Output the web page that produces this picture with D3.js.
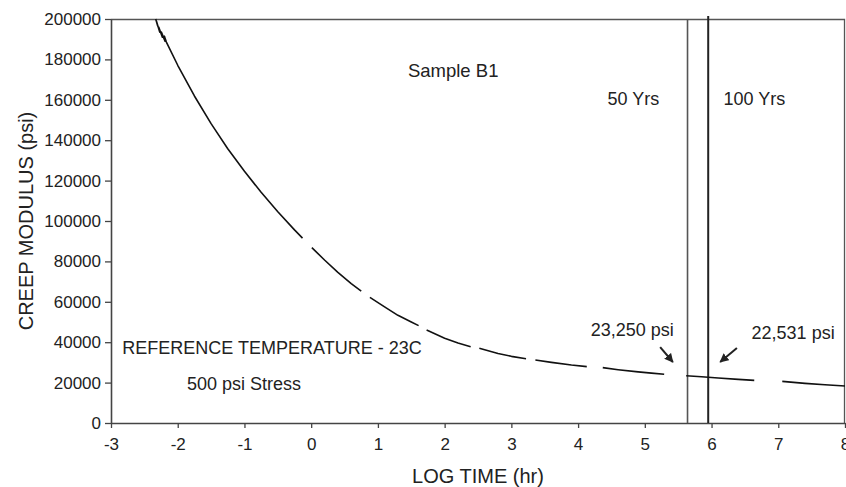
<!DOCTYPE html>
<html>
<head>
<meta charset="utf-8">
<script src="https://cdn.jsdelivr.net/npm/d3@7"></script>
<style>
  body { margin: 0; background: #fff; }
  text { font-family: "Liberation Sans", Arial, sans-serif; fill: #222; }
</style>
</head>
<body>
<svg id="chart"></svg>
<script>
// data: log10(time in hr) vs creep modulus (psi)
// each array is one measured stretch of the master curve (there are gaps between them)
const seg1 = [[-2.33, 200000], [-2.30, 196500], [-2.315, 198500], [-2.27, 193500], [-2.285, 196000],
  [-2.23, 191000], [-2.245, 193500], [-2.19, 189000], [-2.2, 191500], [-2.17, 188600], [-2.0, 177100],
  [-1.75, 161900], [-1.5, 148200], [-1.25, 135800], [-1.0, 124600], [-0.75, 114200], [-0.5, 104600],
  [-0.25, 95600], [-0.13, 91500]]
const seg2 = [[0.01, 86800], [0.2, 80700], [0.4, 74600], [0.6, 69000], [0.75, 65300]]
const seg3 = [[0.88, 62200], [1.1, 57500], [1.3, 53300], [1.5, 50000], [1.61, 48200]]
const seg4 = [[1.73, 46000], [2.0, 42000], [2.2, 39600], [2.39, 37800]]
const seg5 = [[2.52, 37000], [2.8, 34400], [3.0, 33000], [3.22, 31800]]
const seg6 = [[3.36, 31200], [3.6, 30000], [3.9, 28700], [4.13, 27900]]
const seg7 = [[4.37, 27400], [4.6, 26400], [4.9, 25300], [5.1, 24700], [5.29, 24100]]
const seg8 = [[5.62, 23400], [5.85, 22900], [6.1, 22300], [6.4, 21600], [6.64, 21100]]
const seg9 = [[7.06, 20600], [7.4, 19600], [7.7, 18900], [8.0, 18300]]
const segments = [seg1, seg2, seg3, seg4, seg5, seg6, seg7, seg8, seg9]

// service life markers (log hr)
const lifeLines = [{ label: "50 Yrs", x: 5.64 }, { label: "100 Yrs", x: 5.95 }]

// tick labels
const xTicks = [-3, -2, -1, 0, 1, 2, 3, 4, 5, 6, 7, 8]
const yTicks = [0, 20000, 40000, 60000, 80000, 100000, 120000, 140000, 160000, 180000, 200000]

// annotation values and where their arrows sit
const notes = [
  { text: "23,250 psi", x: 4.19, y: 43000, from: [5.23, 37600], to: [5.42, 30200] },
  { text: "22,531 psi", x: 6.6, y: 41800, from: [6.38, 37100], to: [6.13, 30200] }
]

// constants
const width = 846
const height = 487
const margin = { left: 111, right: 1, top: 19, bottom: 64 }
const visWidth = width - margin.left - margin.right
const visHeight = height - margin.top - margin.bottom

const svgRoot = d3.select("svg#chart").attr("width", width).attr("height", height)

svgRoot.append("defs").append("marker")
  .attr("id", "head")
  .attr("viewBox", "0 0 10 10")
  .attr("refX", 9).attr("refY", 5)
  .attr("markerWidth", 9).attr("markerHeight", 9)
  .attr("markerUnits", "userSpaceOnUse")
  .attr("orient", "auto")
  .append("path").attr("d", "M0,0 L10,5 L0,10 Z").attr("fill", "#222")

const svg = svgRoot.append("g").attr("transform", "translate(" + margin.left + "," + margin.top + ")")

const x = d3.scaleLinear().domain([-3, 8]).range([0, visWidth])
const y = d3.scaleLinear().domain([0, 200000]).range([visHeight, 0])

// plot frame (top and right edges)
svg.append("path")
  .attr("d", "M0,0.5 H" + (visWidth - 0.5) + " V" + visHeight)
  .attr("fill", "none").attr("stroke", "#555").attr("stroke-width", 1.3)

// axes - plain hyphen for negatives like the original
const xAxis = svg.append("g").attr("transform", "translate(0," + visHeight + ")")
  .call(d3.axisBottom(x).tickValues(xTicks).tickFormat(d => String(d)).tickSizeOuter(0).tickSizeInner(5).tickPadding(10))
const yAxis = svg.append("g")
  .call(d3.axisLeft(y).tickValues(yTicks).tickFormat(d => String(d)).tickSizeOuter(0).tickSizeInner(6).tickPadding(4))

;[xAxis, yAxis].forEach(a => {
  a.select(".domain").attr("stroke", "#444").attr("stroke-width", 1.6)
  a.selectAll(".tick line").attr("stroke", "#444").attr("stroke-width", 1.3)
  a.selectAll("text").attr("font-size", "17px").attr("fill", "#222")
    .attr("font-family", "'Liberation Sans', Arial, sans-serif")
})

// axis titles
svg.append("text")
  .attr("x", x(2.5)).attr("y", visHeight + 60)
  .attr("text-anchor", "middle").attr("font-size", "20px")
  .text("LOG TIME (hr)")
svg.append("text")
  .attr("transform", "translate(" + (-78) + "," + (visHeight / 2) + ") rotate(-90)")
  .attr("text-anchor", "middle").attr("font-size", "20px")
  .text("CREEP MODULUS (psi)")

// 50 / 100 year lines
svg.selectAll(".life")
  .data(lifeLines).enter()
  .append("line")
  .attr("class", "life")
  .attr("x1", d => x(d.x)).attr("x2", d => x(d.x))
  .attr("y1", (d, i) => i == 1 ? -3 : 0).attr("y2", visHeight)
  .attr("stroke", (d, i) => i == 1 ? "#222" : "#555")
  .attr("stroke-width", (d, i) => i == 1 ? 2 : 1.6)

// creep curve
const line = d3.line().x(d => x(d[0])).y(d => y(d[1]))
svg.selectAll(".curve")
  .data(segments).enter()
  .append("path")
  .attr("class", "curve")
  .attr("d", line)
  .attr("fill", "none").attr("stroke", "#111").attr("stroke-width", 1.6)
  .attr("stroke-linejoin", "round")

// labels
svg.append("text").attr("x", x(1.45)).attr("y", y(171500)).attr("font-size", "18.5px").text("Sample B1")
svg.append("text").attr("x", x(4.44)).attr("y", y(157600)).attr("font-size", "18px").text(lifeLines[0].label)
svg.append("text").attr("x", x(6.18)).attr("y", y(157600)).attr("font-size", "18px").text(lifeLines[1].label)
svg.append("text").attr("x", x(-2.83)).attr("y", y(34400)).attr("font-size", "18px").text("REFERENCE TEMPERATURE - 23C")
svg.append("text").attr("x", x(-1.86)).attr("y", y(16200)).attr("font-size", "18px").text("500 psi Stress")

svg.selectAll(".note")
  .data(notes).enter()
  .append("text")
  .attr("class", "note")
  .attr("x", d => x(d.x)).attr("y", d => y(d.y))
  .attr("font-size", "18px")
  .text(d => d.text)

svg.selectAll(".arrow")
  .data(notes).enter()
  .append("line")
  .attr("class", "arrow")
  .attr("x1", d => x(d.from[0])).attr("y1", d => y(d.from[1]))
  .attr("x2", d => x(d.to[0])).attr("y2", d => y(d.to[1]))
  .attr("stroke", "#222").attr("stroke-width", 2)
  .attr("marker-end", "url(#head)")
</script>
</body>
</html>
